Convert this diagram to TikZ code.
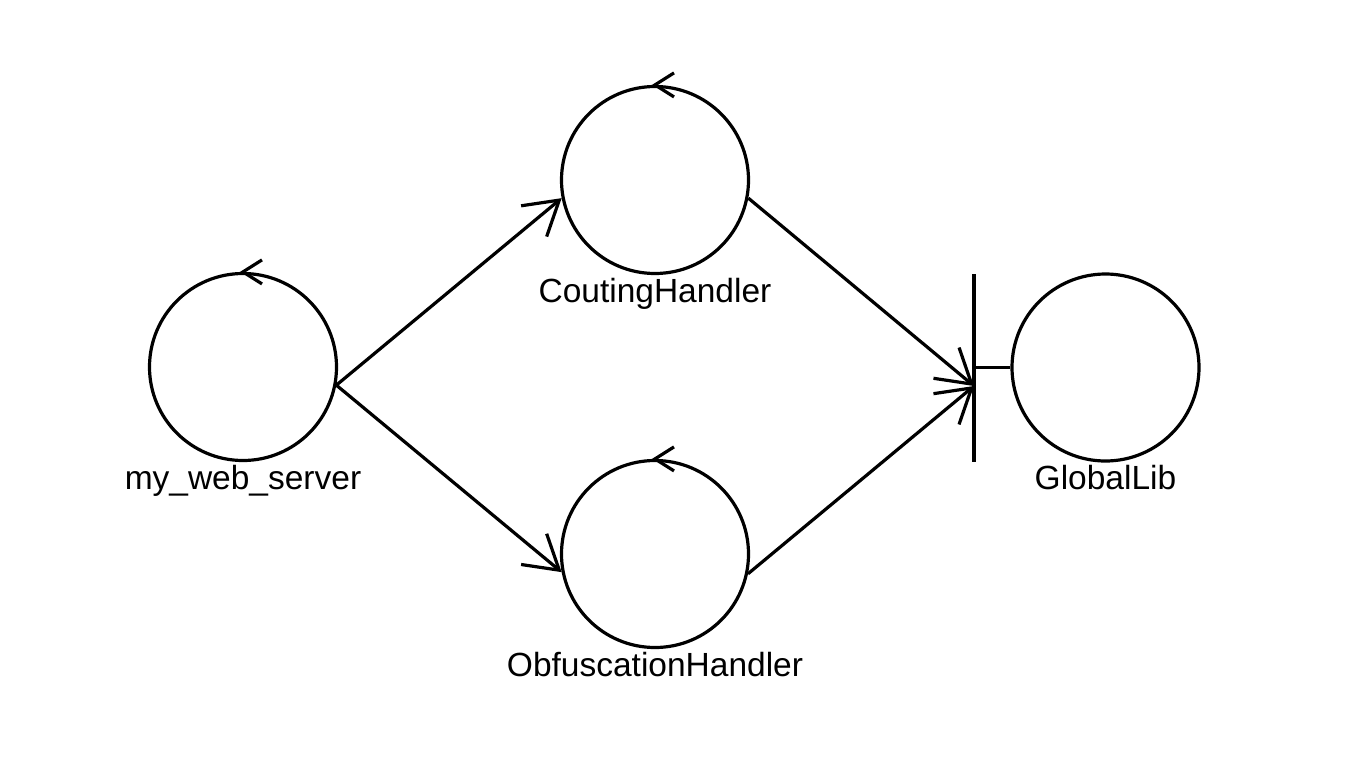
\documentclass[tikz,border=0pt]{standalone}
\usepackage{fontspec}
\setmainfont{Liberation Sans}
\usetikzlibrary{arrows.meta}
\begin{document}
\begin{tikzpicture}[x=1pt,y=-1pt,
  obj/.style={circle,draw,line width=3.2pt,minimum size=187pt,inner sep=0pt},
  lbl/.style={font=\fontsize{33.5}{36}\selectfont,anchor=base,inner sep=0pt},
  conn/.style={line width=3.2pt,-{Straight Barb[length=33pt,width=40pt]}},
  ctl/.style={line width=3.2pt}]
\useasboundingbox (0,0) rectangle (1350,761);
\node[obj] (ws) at (243,367) {};
\node[obj] (ch) at (655,180) {};
\node[obj] (oh) at (655,554) {};
\node[obj] (gl) at (1105.5,367.5) {};
\node[lbl] (wsl) at (243,489) {my\_web\_server};
\node[lbl] (chl) at (655,302) {CoutingHandler};
\node[lbl] (ohl) at (655,676) {ObfuscationHandler};
\node[lbl] (gll) at (1105.5,489) {GlobalLib};
% control object markers
\draw[ctl] (ws.north) ++(19,-12) -- (ws.north) -- ++(19,12);
\draw[ctl] (ch.north) ++(19,-12) -- (ch.north) -- ++(19,12);
\draw[ctl] (oh.north) ++(19,-12) -- (oh.north) -- ++(19,12);
% boundary bar
\coordinate (bartop) at (974,274);
\coordinate (barbot) at (974,462);
\coordinate (bartip) at (974,386);
\draw[ctl] (bartop) -- (barbot);
\draw[ctl] (gl.west -| bartop) -- (gl.west);
% connectors
\draw[conn] (ws.-11) -- (ch.191);
\draw[conn] (ws.-11) -- (oh.191);
\draw[conn] (ch.-11) -- (bartip);
\draw[conn] (oh.-12) -- (bartip);
\end{tikzpicture}
\end{document}
